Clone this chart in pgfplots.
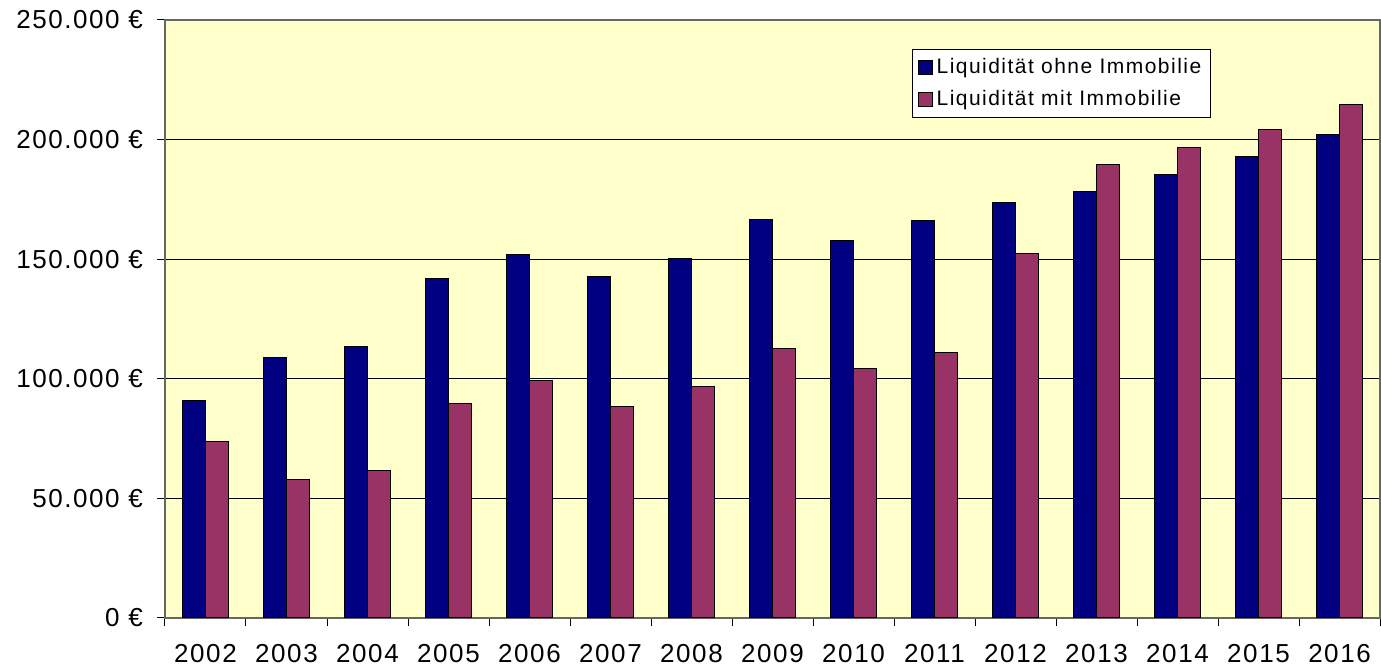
\documentclass[border=0pt]{standalone}
\usepackage{fontspec}
\setmainfont{Liberation Sans}
\newfontfamily\tickfont[LetterSpace=6]{Liberation Sans}
\newfontfamily\legfont[LetterSpace=7]{Liberation Sans}
\usepackage{pgfplots}
\pgfplotsset{compat=1.18}
\definecolor{bgyellow}{HTML}{FFFFCC}
\definecolor{navyb}{HTML}{000080}
\definecolor{plum}{HTML}{993366}
\begin{document}
\begin{tikzpicture}
\begin{axis}[
  at={(0,0)}, anchor=south west,
  scale only axis, width=607.5pt, height=299pt,
  xmin=-0.5, xmax=14.5, ymin=0, ymax=250000,
  axis background/.style={fill=bgyellow},
  axis line style={draw=black!60, line width=0.6pt},
  ybar, bar width=0.284,
  xtick={0,...,14},
  xticklabels={2002,2003,2004,2005,2006,2007,2008,2009,2010,2011,2012,2013,2014,2015,2016},
  major x tick style={draw=none},
  minor xtick={-0.5,0.5,...,14.5},
  minor x tick style={draw=black, line width=0.5pt},
  minor tick length=4pt,
  xtick pos=bottom, ytick pos=left,
  ytick={0,50000,100000,150000,200000,250000},
  yticklabels={0 €,50.000 €,100.000 €,150.000 €,200.000 €,250.000 €},
  scaled y ticks=false,
  major y tick style={draw=black, line width=0.5pt},
  major tick length=4pt,
  tick align=outside,
  ymajorgrids, major grid style={black, line width=0.6pt},
  tick label style={font=\tickfont\fontsize{13}{15}\selectfont},
  xticklabel style={yshift=-5.5pt},
  yticklabel style={xshift=-3.5pt},
  legend style={at={(0.615,0.9515)}, anchor=north west, draw=black, fill=white,
    font=\legfont\fontsize{10.5}{13}\selectfont, legend cell align=left, row sep=3pt, inner sep=2.5pt},
  legend image code/.code={\draw[#1,draw=black,line width=0.5pt] (0pt,-3.5pt) rectangle (7pt,3.5pt);},
]
\addplot[fill=navyb, draw=black, line width=0.5pt, bar shift=-0.142] coordinates {
(0,91100) (1,109100) (2,113300) (3,142100) (4,151800) (5,142600) (6,150100) (7,166400)
(8,158000) (9,166000) (10,173900) (11,178500) (12,185600) (13,193100) (14,202300)};
\addlegendentry{Liquidität ohne Immobilie}
\addplot[fill=plum, draw=black, line width=0.5pt, bar shift=0.142] coordinates {
(0,73600) (1,57700) (2,61500) (3,89500) (4,99100) (5,88600) (6,96600) (7,112500)
(8,104500) (9,110800) (10,152200) (11,189400) (12,196900) (13,204400) (14,214500)};
\addlegendentry{Liquidität mit Immobilie}
\end{axis}
\pgfresetboundingbox
\path[use as bounding box] (-82.5pt,-25pt) rectangle (608pt,309pt);
\end{tikzpicture}
\end{document}
